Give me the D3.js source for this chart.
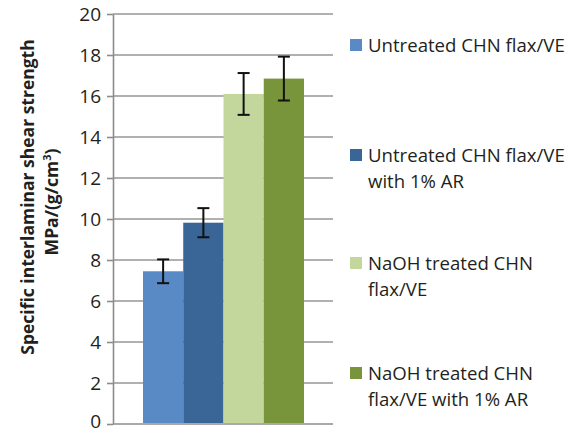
<!DOCTYPE html>
<html><head><meta charset="utf-8">
<script src="https://cdn.jsdelivr.net/npm/d3@7"></script>
<style>body{margin:0;background:#fff}svg{display:block}</style>
</head><body>
<svg id="c" width="571" height="435"></svg>
<script>
const categories = ["Untreated CHN flax/VE","Untreated CHN flax/VE with 1% AR","NaOH treated CHN flax/VE","NaOH treated CHN flax/VE with 1% AR"];
const legendLines = [["Untreated CHN flax/VE"],["Untreated CHN flax/VE","with 1% AR"],["NaOH treated CHN","flax/VE"],["NaOH treated CHN","flax/VE with 1% AR"]];
const values = [7.45, 9.82, 16.1, 16.85];
const errors = [0.58, 0.71, 1.02, 1.07];
const colors = ["#5a8ac6","#3a6597","#c3d79c","#78953c"];
const yTicks = [0,2,4,6,8,10,12,14,16,18,20];

(function(){
const svg = d3.select("#c");
const font = "'Open Sans', sans-serif";
const pl = 113, pr = 333, pt = 14, pb = 424;
const y = d3.scaleLinear().domain([0,20]).range([pb, pt]);
const x = d3.scaleBand().domain(categories).range([143, 304]).padding(0);

// grid
svg.append("g").selectAll("line").data(yTicks.filter(d=>d>0)).join("line")
  .attr("x1", pl).attr("x2", pr).attr("y1", d=>y(d)).attr("y2", d=>y(d))
  .attr("stroke", "#969696").attr("stroke-width", 1.6);

// axis
const ax = svg.append("g").attr("transform", `translate(${pl},0)`)
  .call(d3.axisLeft(y).tickValues(yTicks).tickSize(6).tickSizeOuter(0).tickPadding(6));
ax.select(".domain").attr("stroke", "#8c8c8c").attr("stroke-width", 1.6);
ax.selectAll(".tick line").attr("stroke", "#8c8c8c").attr("stroke-width", 1.6);
ax.selectAll(".tick text").attr("font-family", font).attr("font-size", 19).attr("fill", "#231f20")
  .attr("dy", d => d === 0 ? "0.18em" : "0.32em");
svg.append("line").attr("x1", pl).attr("x2", pr).attr("y1", pb).attr("y2", pb)
  .attr("stroke", "#8c8c8c").attr("stroke-width", 1.6);

// bars
svg.append("g").selectAll("rect").data(values).join("rect")
  .attr("x", (d,i)=>x(categories[i])).attr("width", x.bandwidth())
  .attr("y", d=>y(d)).attr("height", d=>pb - y(d) - 1)
  .attr("fill", (d,i)=>colors[i]);

// error bars
const eg = svg.append("g").attr("stroke", "#111").attr("stroke-width", 2);
values.forEach((v,i)=>{
  const cx = x(categories[i]) + x.bandwidth()/2;
  const hi = y(v + errors[i]), lo = y(v - errors[i]);
  eg.append("line").attr("x1", cx).attr("x2", cx).attr("y1", hi).attr("y2", lo);
  eg.append("line").attr("x1", cx-6).attr("x2", cx+6).attr("y1", hi).attr("y2", hi);
  eg.append("line").attr("x1", cx-6).attr("x2", cx+6).attr("y1", lo).attr("y2", lo);
});

// y title
const t = svg.append("text").attr("transform", "translate(34,197) rotate(-90)")
  .attr("text-anchor", "middle").attr("font-family", font).attr("font-weight", "bold")
  .attr("font-size", 17.5).attr("fill", "#231f20");
t.append("tspan").attr("x", 0).attr("dy", 0).text("Specific interlaminar shear strength");
const t2 = svg.append("text").attr("transform", "translate(58,202) rotate(-90)")
  .attr("text-anchor", "middle").attr("font-family", font).attr("font-weight", "bold")
  .attr("font-size", 17.5).attr("fill", "#231f20");
t2.append("tspan").text("MPa/(g/cm");
t2.append("tspan").attr("dy", -7).attr("font-size", 11).text("3");
t2.append("tspan").attr("dy", 7).text(")");

// legend
const legY = [45, 155, 263, 373];
const lg = svg.append("g");
legendLines.forEach((lines,i)=>{
  lg.append("rect").attr("x", 350).attr("y", legY[i]-6).attr("width", 12).attr("height", 12).attr("fill", colors[i]);
  const tx = lg.append("text").attr("font-family", font).attr("font-size", 18.6).attr("fill", "#231f20");
  lines.forEach((l,j)=>{
    tx.append("tspan").attr("x", 368).attr("y", legY[i] + 7 + j*26).text(l);
  });
});
})();
</script>
</body></html>
